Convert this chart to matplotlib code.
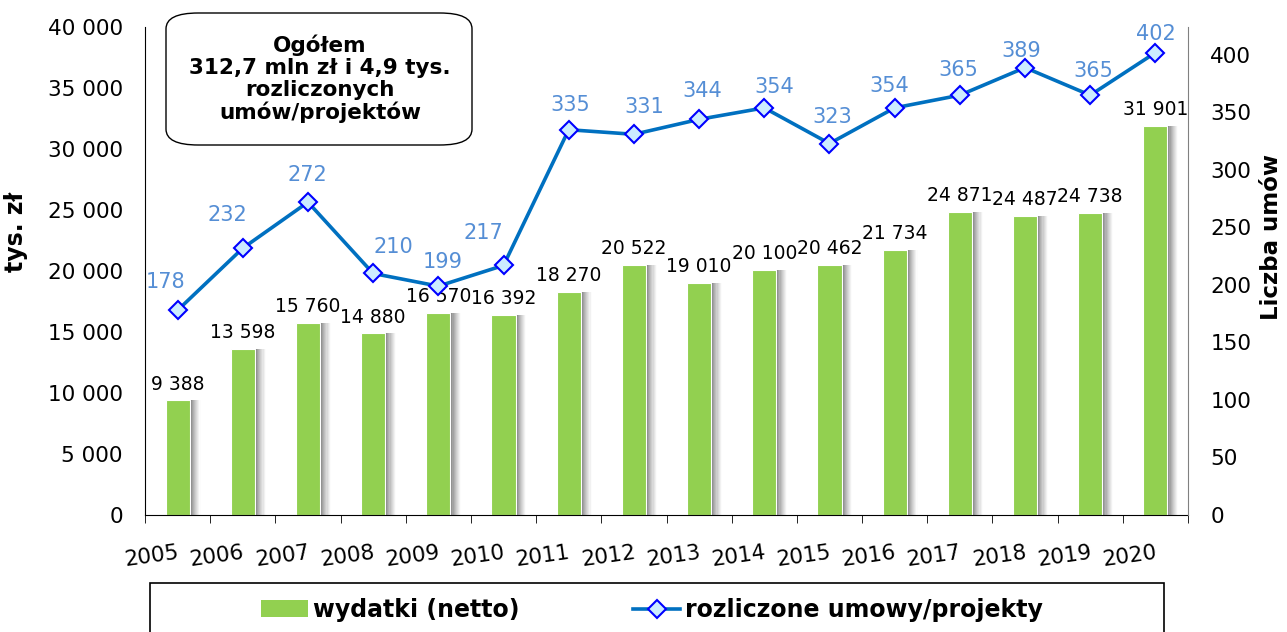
import numpy as np
import matplotlib.pyplot as plt
from matplotlib.patches import FancyBboxPatch, Rectangle, Patch
from matplotlib.lines import Line2D

years = ["2005", "2006", "2007", "2008", "2009", "2010", "2011", "2012",
         "2013", "2014", "2015", "2016", "2017", "2018", "2019", "2020"]
wydatki = [9388, 13598, 15760, 14880, 16570, 16392, 18270, 20522,
           19010, 20100, 20462, 21734, 24871, 24487, 24738, 31901]
umowy = [178, 232, 272, 210, 199, 217, 335, 331,
         344, 354, 323, 354, 365, 389, 365, 402]
left_ticks = [0, 5000, 10000, 15000, 20000, 25000, 30000, 35000, 40000]
right_ticks = [0, 50, 100, 150, 200, 250, 300, 350, 400]

# hand placed label offsets for the line (pixels, relative to the marker)
line_lbl_dx = [-12, -15, -1, 20, 4, -20, 2, 10, 3, 10, 3, -5, -2, -4, 3, 0]
line_lbl_dy = [28, 33, 27, 26, 24, 32, 25, 27, 28, 21, 27, 22, 25, 17, 24, 19]

BAR = "#92D050"
LINE = "#0070C0"
LBL = "#558ED5"

plt.rcParams['font.family'] = ['DejaVu Sans']

def fmt(v):
    return "{:,}".format(v).replace(",", " ")

fig = plt.figure(figsize=(12.87, 6.32), dpi=100)
ax = fig.add_axes([145 / 1287, 1 - 515 / 632, 1043 / 1287, 488 / 632])
x = np.arange(len(years))
w = 0.37

# gradient shadow on the right side of the bars
n_sh = 9
for i in range(n_sh):
    t = i / (n_sh - 1)
    g = 0.55 + 0.44 * t ** 0.8
    ax.bar(x + w / 2 + 0.014 + i * 0.017, wydatki, width=0.017, align="edge",
           color=(g, g, g), linewidth=0, zorder=1)
ax.bar(x, wydatki, width=w, color=BAR, edgecolor="white", linewidth=0.8,
       zorder=2)
for xi, v in zip(x, wydatki):
    ax.annotate(fmt(v), (xi, v), xytext=(0, 5), textcoords="offset points",
                ha="center", va="bottom", fontsize=13.5)

ax.set_xlim(-0.5, len(years) - 0.5)
ax.set_ylim(0, 40000)
ax.set_yticks(left_ticks)
ax.set_yticklabels([fmt(t) for t in left_ticks], fontsize=15.5)
ax.tick_params(axis="y", length=0, pad=16)
ax.set_xticks(x)
ax.set_xticklabels(years, fontsize=15.5, rotation=8, ha="right",
                   rotation_mode="anchor")
ax.tick_params(axis="x", which="major", length=0, pad=20)
ax.set_xticks(np.arange(len(years) + 1) - 0.5, minor=True)
ax.tick_params(axis="x", which="minor", length=6, direction="out")
for s in ["top", "right"]:
    ax.spines[s].set_visible(False)
ax.set_ylabel("tys. zł", fontsize=17, fontweight="bold")
ax.yaxis.set_label_coords(-0.112, 0.58)

ax2 = ax.twinx()
ax2.plot(x, umowy, color=LINE, linewidth=2.6, marker="D", markersize=9,
         markerfacecolor="#CCECFF", markeredgecolor="#0000FF",
         markeredgewidth=1.5, zorder=5)
for xi, v, dx, dy in zip(x, umowy, line_lbl_dx, line_lbl_dy):
    ax2.annotate(str(v), (xi, v), xytext=(dx * 0.72, dy * 0.72),
                 textcoords="offset points", ha="center", va="center",
                 fontsize=15, color=LBL)
ax2.set_ylim(0, 424.3)
ax2.set_yticks(right_ticks)
ax2.set_yticklabels([str(t) for t in right_ticks], fontsize=15.5)
ax2.tick_params(axis="y", length=0, pad=16)
for s in ["top", "left", "bottom"]:
    ax2.spines[s].set_visible(False)
ax2.spines["right"].set_color("#808080")
ax2.set_ylabel("Liczba umów", fontsize=16.5, fontweight="bold")
ax2.yaxis.set_label_coords(1.069, 0.57)

# summary box
box = FancyBboxPatch((166 / 1287, 1 - 145 / 632), 306 / 1287, 132 / 632,
                     boxstyle="round,pad=0,rounding_size=0.025",
                     transform=fig.transFigure, facecolor="white",
                     edgecolor="black", linewidth=1.0, zorder=10)
fig.patches.append(box)
fig.text(320 / 1287, 1 - 79 / 632,
         "Ogółem\n312,7 mln zł i 4,9 tys.\nrozliczonych\numów/projektów",
         ha="center", va="center", fontsize=15.5, fontweight="bold",
         linespacing=1.12, zorder=11)

# legend frame running off the bottom
frame = Rectangle((150 / 1287, -0.05), 1014 / 1287, 0.05 + 1 - 583 / 632,
                  transform=fig.transFigure, facecolor="white",
                  edgecolor="black", linewidth=1.2)
fig.patches.append(frame)
handles = [Patch(facecolor=BAR, edgecolor="none"),
           Line2D([], [], color=LINE, linewidth=2.6, marker="D", markersize=9,
                  markerfacecolor="#CCECFF", markeredgecolor="#0000FF",
                  markeredgewidth=1.5)]
fig.legend(handles, ["wydatki (netto)", "rozliczone umowy/projekty"],
           loc="center", bbox_to_anchor=(652 / 1287, 1 - 610 / 632), ncol=2,
           frameon=False, prop={"size": 17, "weight": "bold"},
           handlelength=2.0, handletextpad=0.2, columnspacing=4.8)

fig.savefig("out.png", dpi=100)
